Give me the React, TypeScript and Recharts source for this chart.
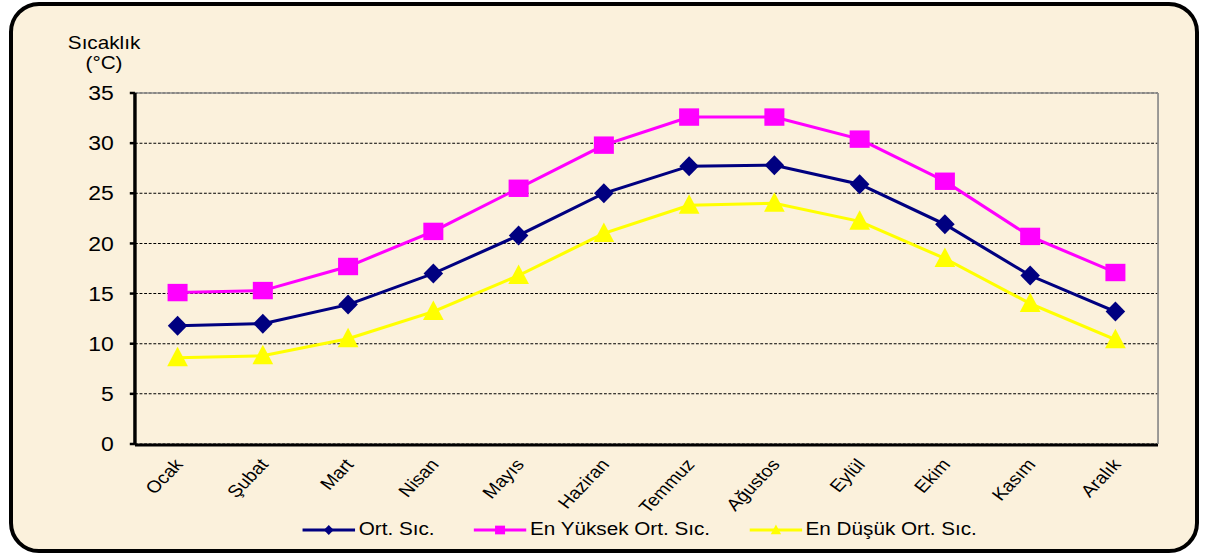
import React from "react";
import {
  LineChart,
  Line,
  XAxis,
  YAxis,
  CartesianGrid,
  Legend,
} from "recharts";

const months = [
  "Ocak",
  "Şubat",
  "Mart",
  "Nisan",
  "Mayıs",
  "Haziran",
  "Temmuz",
  "Ağustos",
  "Eylül",
  "Ekim",
  "Kasım",
  "Aralık",
];
const avgTemp = [11.8, 12.0, 13.9, 17.0, 20.8, 25.0, 27.7, 27.8, 25.9, 21.9, 16.8, 13.2];
const maxTemp = [15.1, 15.3, 17.7, 21.2, 25.5, 29.8, 32.6, 32.6, 30.4, 26.2, 20.7, 17.1];
const minTemp = [8.6, 8.8, 10.5, 13.2, 16.8, 21.0, 23.8, 24.0, 22.2, 18.5, 14.0, 10.4];
const yTicks = [0, 5, 10, 15, 20, 25, 30, 35];
const edgeTicks = [0, 1, 2, 3, 4, 5, 6, 7, 8, 9, 10, 11, 12];

const seriesKeys = ["avg", "max", "min"];
const seriesNames: Record<string, string> = {
  avg: "Ort. Sıc.",
  max: "En Yüksek Ort. Sıc.",
  min: "En Düşük Ort. Sıc.",
};

const chartData = months.map((m, i) => ({
  month: m,
  avg: avgTemp[i],
  max: maxTemp[i],
  min: minTemp[i],
}));

const FONT = '"Liberation Sans", Arial, sans-serif';
const CREAM = "#FBF1DC";
// the original picture is stretched sideways, so the chart is drawn narrower and scaled
const W = 1050;
const H = 556;
const STRETCH = 1207 / W;

const COLORS: Record<string, string> = {
  avg: "#000080",
  max: "#FF00FF",
  min: "#FFFF00",
};

const marker = (key: string, cx: number, cy: number, k: number) => {
  const c = COLORS[key];
  if (key === "avg") {
    return (
      <path
        d={`M${cx},${cy - 10 * k}L${cx + 8.5 * k},${cy}L${cx},${cy + 10 * k}L${cx - 8.5 * k},${cy}Z`}
        fill={c}
      />
    );
  }
  if (key === "max") {
    const s = 8.7 * k;
    return <rect x={cx - s} y={cy - s} width={s * 2} height={s * 2} fill={c} />;
  }
  return (
    <path
      d={`M${cx},${cy - 11 * k}L${cx + 9 * k},${cy + 8.5 * k}L${cx - 9 * k},${cy + 8.5 * k}Z`}
      fill={c}
    />
  );
};

const makeDot = (key: string) => (props: any) => {
  const { cx, cy, index } = props;
  if (cx == null || cy == null) return <g key={index} />;
  return <g key={index}>{marker(key, cx, cy, 1)}</g>;
};

const renderMonthTick = (props: any) => {
  const { x, y, payload, index } = props;
  return (
    <g key={index} transform={`translate(${x + 5.5},${y + 21})`}>
      <text
        x={0}
        y={0}
        transform="rotate(-50)"
        textAnchor="end"
        fontSize={17}
        fontFamily={FONT}
        fill="#000"
      >
        {payload.value}
      </text>
    </g>
  );
};

const AxisTitle = () => (
  <text fontFamily={FONT} fontSize={18} fill="#000" textAnchor="middle">
    <tspan x={90.5} y={49}>
      Sıcaklık
    </tspan>
    <tspan x={90.5} y={69}>
      (°C)
    </tspan>
  </text>
);

const renderLegend = (props: any) => {
  const { payload = [] } = props;
  const items = seriesKeys
    .map((k) => payload.find((p: any) => p.dataKey === k))
    .filter(Boolean);
  return (
    <div
      style={{
        display: "flex",
        alignItems: "center",
        fontFamily: FONT,
        fontSize: 18,
        color: "#000",
        whiteSpace: "nowrap",
      }}
    >
      {items.map((entry: any) => (
        <div
          key={entry.dataKey}
          style={{ display: "flex", alignItems: "center", marginRight: 34 }}
        >
          <svg width={46} height={20}>
            <line x1={0} x2={46} y1={10} y2={10} stroke={COLORS[entry.dataKey]} strokeWidth={3} />
            {marker(entry.dataKey, 23, 10, 0.5)}
          </svg>
          <span style={{ marginLeft: 3 }}>{entry.value}</span>
        </div>
      ))}
    </div>
  );
};

export default function App() {
  return (
    <div
      style={{
        position: "fixed",
        left: 0,
        top: 0,
        width: 1207,
        height: 556,
        background: "#fff",
        overflow: "hidden",
      }}
    >
      <div
        style={{
          position: "absolute",
          left: 9,
          top: 2,
          width: 1190,
          height: 551,
          border: "4px solid #000",
          borderRadius: 30,
          background: CREAM,
          boxSizing: "border-box",
        }}
      />
      <div
        style={{
          position: "absolute",
          left: 0,
          top: 0,
          width: W,
          height: H,
          transform: `scaleX(${STRETCH})`,
          transformOrigin: "0 0",
        }}
      >
        <LineChart
          width={W}
          height={H}
          data={chartData}
          margin={{ top: 92, right: 41.6, left: 57.4, bottom: 110 }}
        >
          <CartesianGrid
            xAxisId="cat"
            yAxisId="t"
            vertical={false}
            stroke="#000"
            strokeDasharray="2.5 1.5"
          />
          <XAxis
            xAxisId="edge"
            type="number"
            domain={[0, 12]}
            ticks={edgeTicks}
            tick={false}
            tickSize={5}
            tickLine={{ stroke: "#000", strokeWidth: 2.5 }}
            axisLine={{ stroke: "#000", strokeWidth: 3 }}
            height={1}
            allowDataOverflow
          />
          <XAxis
            xAxisId="cat"
            dataKey="month"
            padding={{ left: 37.07, right: 37.07 }}
            axisLine={false}
            tickLine={false}
            tickSize={0}
            tickMargin={0}
            interval={0}
            tick={renderMonthTick}
            height={1}
          />
          <XAxis
            xAxisId="top"
            orientation="top"
            type="number"
            domain={[0, 1]}
            tick={false}
            tickLine={false}
            axisLine={{ stroke: "#8c8c8c", strokeWidth: 1.5 }}
            height={1}
          />
          <YAxis
            yAxisId="t"
            domain={[0, 35]}
            ticks={yTicks}
            interval={0}
            width={60}
            tickSize={4.5}
            tickMargin={14}
            tick={{ fill: "#000", fontSize: 20, fontFamily: FONT }}
            tickLine={{ stroke: "#000", strokeWidth: 2.5 }}
            axisLine={{ stroke: "#000", strokeWidth: 3 }}
            label={{ content: () => <AxisTitle /> }}
          />
          <YAxis
            yAxisId="r"
            orientation="right"
            type="number"
            domain={[0, 35]}
            width={1}
            tick={false}
            tickLine={false}
            axisLine={{ stroke: "#8c8c8c", strokeWidth: 1.5 }}
          />
          <Legend
            content={renderLegend}
            layout="horizontal"
            verticalAlign="middle"
            wrapperStyle={{ position: "absolute", left: 263, top: 519, width: "auto" }}
          />
          {seriesKeys.map((k) => (
            <Line
              key={k}
              xAxisId="cat"
              yAxisId="t"
              type="linear"
              dataKey={k}
              name={seriesNames[k]}
              stroke={COLORS[k]}
              strokeWidth={3}
              dot={makeDot(k)}
              activeDot={false}
              isAnimationActive={false}
            />
          ))}
        </LineChart>
      </div>
    </div>
  );
}
